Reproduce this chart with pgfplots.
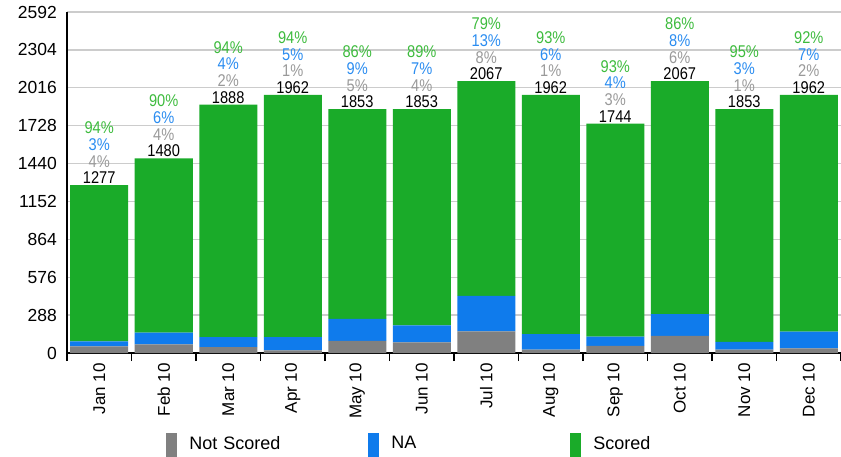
\documentclass[border=0pt]{standalone}
\usepackage{pgfplots}
\pgfplotsset{compat=1.18}
\usepackage{pgfplotstable}
\usepackage{fontspec}
\setmainfont{Liberation Sans}
\newfontfamily\narrowfont[FakeStretch=0.86]{Liberation Sans}
\definecolor{cgray}{HTML}{808080}
\definecolor{cblue}{HTML}{0F7BEC}
\definecolor{cgreen}{HTML}{1AAB29}
\definecolor{tgray}{HTML}{999999}
\definecolor{tblue}{HTML}{2A8CF0}
\definecolor{tgreen}{HTML}{3DBB3D}
\pgfplotstableread{
x ns na sc tot pns pna psc
0 51 38 1188 1277 4 3 94
1 65 89 1326 1480 4 6 90
2 45 76 1767 1888 2 4 94
3 20 100 1842 1962 1 5 94
4 93 167 1593 1853 5 9 86
5 80 130 1643 1853 4 7 89
6 165 270 1632 2067 8 13 79
7 25 118 1819 1962 1 6 93
8 55 70 1619 1744 3 4 93
9 130 165 1772 2067 6 8 86
10 25 60 1768 1853 1 3 95
11 35 128 1799 1962 2 7 92
}\data
\begin{document}
\begin{tikzpicture}
\begin{axis}[
  name=ax, scale only axis, width=774pt, height=341pt,
  ybar stacked, bar width=58pt,
  xmin=-0.5, xmax=11.5, ymin=0, ymax=2592,
  ytick={0,288,...,2592},
  ymajorgrids, grid style={line width=1.3pt, color=black!20},
  axis x line*=bottom, axis y line*=left,
  axis line style={line width=1.3pt, black, -},
  /pgf/number format/assume math mode=true,
  /pgf/number format/1000 sep={},
  ytick style={draw=none},
  yticklabel style={font=\fontsize{17.5}{17.5}\selectfont, inner sep=0pt, xshift=-2pt},
  xticklabel style={rotate=90, anchor=east, inner sep=0pt, xshift=-10pt, font=\fontsize{17}{17}\selectfont},
  xtick={-0.5,0.5,...,11.5}, xticklabels={},
  xtick style={black, line width=1.3pt},
  major tick length=8pt, tick align=outside,
  extra x ticks={0,1,2,3,4,5,6,7,8,9,10,11},
  extra x tick labels={Jan 10,Feb 10,Mar 10,Apr 10,May 10,Jun 10,Jul 10,Aug 10,Sep 10,Oct 10,Nov 10,Dec 10},
  extra x tick style={grid=none, major tick length=0pt},
  clip=false,
  legend columns=3,
  legend style={at={(0.128,-0.235)}, anchor=north west, draw=none, inner sep=0pt,
    font=\fontsize{18}{18}\selectfont,
    nodes={text width=179pt, align=left, inner sep=0pt},
    /tikz/every odd column/.append style={column sep=12pt}},
  legend image code/.code={\fill[#1] (0pt,-16pt) rectangle (11pt,10pt);},
]
\addplot[fill=cgray, draw=none] table[x=x, y=ns]{\data};
\addlegendentry{Not Scored}
\addplot[fill=cblue, draw=none] table[x=x, y=na]{\data};
\addlegendentry{NA}
\addplot[fill=cgreen, draw=none,
  point meta=explicit symbolic,
  visualization depends on={\thisrow{pns}\as\pns},
  visualization depends on={\thisrow{pna}\as\pna},
  visualization depends on={\thisrow{psc}\as\psc},
  visualization depends on={\thisrow{sc}\as\sch},
  nodes near coords={\textcolor{tgreen}{\pgfmathprintnumber[fixed,precision=0]{\psc}\%}\\\textcolor{tblue}{\pgfmathprintnumber[fixed,precision=0]{\pna}\%}\\\textcolor{tgray}{\pgfmathprintnumber[fixed,precision=0]{\pns}\%}\\\pgfplotspointmeta},
  every node near coord/.append style={anchor=south, inner sep=0pt, yshift={\sch*0.065779pt+1pt}, align=center,
    font=\narrowfont\fontsize{17}{16.7}\selectfont, text=black}
] table[x=x, y=sc, meta=tot]{\data};
\addlegendentry{Scored}
\end{axis}
\pgfresetboundingbox
\path[use as bounding box] ([shift={(-67pt,-103pt)}]ax.south west) rectangle ([shift={(0pt,12pt)}]ax.north east);
\end{tikzpicture}
\end{document}
